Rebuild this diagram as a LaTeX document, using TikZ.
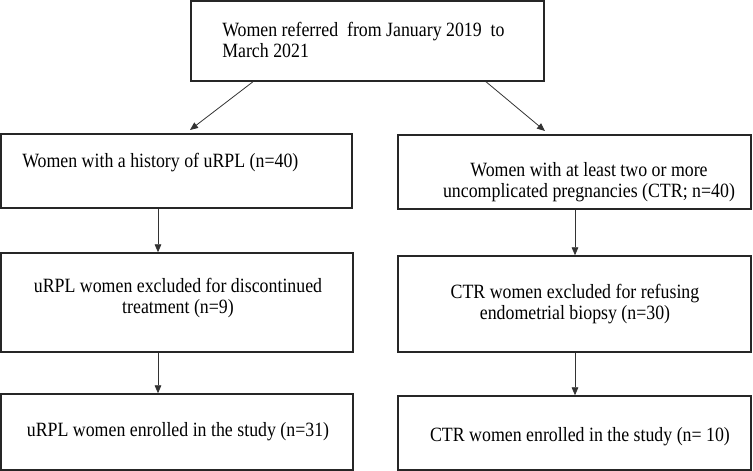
\documentclass[tikz,border=0pt]{standalone}
\usepackage{fontspec}
\setmainfont{Liberation Serif}[FakeStretch=0.88]
\usetikzlibrary{fit,arrows.meta}
\begin{document}
\begin{tikzpicture}[x=0.75pt,y=-0.75pt,
  box/.style={draw=black!85, line width=1.1pt, inner sep=0pt, rectangle},
  txt/.style={font=\fontsize{15.2}{16.2}\selectfont, inner sep=0pt, text=black},
  arr/.style={draw=black!80, line width=0.6pt, -{Triangle[length=6pt,width=5pt]}}]
\useasboundingbox (0,0) rectangle (753,471);

% boxes
\node[box, fit={(191,1)(544,81)}] (top) {};
\node[box, fit={(1,134)(352,208)}] (l1) {};
\node[box, fit={(398,135)(751,209)}] (r1) {};
\node[box, fit={(1,253)(353,352)}] (l2) {};
\node[box, fit={(398,256)(751,352)}] (r2) {};
\node[box, fit={(1,394)(353,470)}] (l3) {};
\node[box, fit={(398,396)(751,470)}] (r3) {};

% texts
\node[txt, anchor=west, align=left] (ttop) at (222,40)
  {Women referred\ \ from January 2019\ \ to\\March 2021};
\node[txt, anchor=west] (tl1) at (22,163) {Women with a history of uRPL (n=40)};
\node[txt, align=center] (tr1) at (589,182)
  {Women with at least two or more\\uncomplicated pregnancies (CTR; n=40)};
\node[txt, align=center] (tl2) at (178,298)
  {uRPL women excluded for discontinued\\treatment (n=9)};
\node[txt, align=center] (tr2) at (575,304)
  {CTR women excluded for refusing\\endometrial biopsy (n=30)};
\node[txt] (tl3) at (178,432) {uRPL women enrolled in the study (n=31)};
\node[txt] (tr3) at (580,437) {CTR women enrolled in the study (n= 10)};

% connector columns
\coordinate (cl) at (158,0);
\coordinate (cr) at (575,0);
\coordinate (dl0) at (253,0);
\coordinate (dr0) at (486,0);
\coordinate (dl1) at (190,130);
\coordinate (dr1) at (545,131);

% connectors
\draw[arr] (top.south -| dl0) -- (dl1);
\draw[arr] (top.south -| dr0) -- (dr1);
\draw[arr] (l1.south -| cl) -- (l2.north -| cl);
\draw[arr] (l2.south -| cl) -- (l3.north -| cl);
\draw[arr] (r1.south -| cr) -- (r2.north -| cr);
\draw[arr] (r2.south -| cr) -- (r3.north -| cr);
\end{tikzpicture}
\end{document}
